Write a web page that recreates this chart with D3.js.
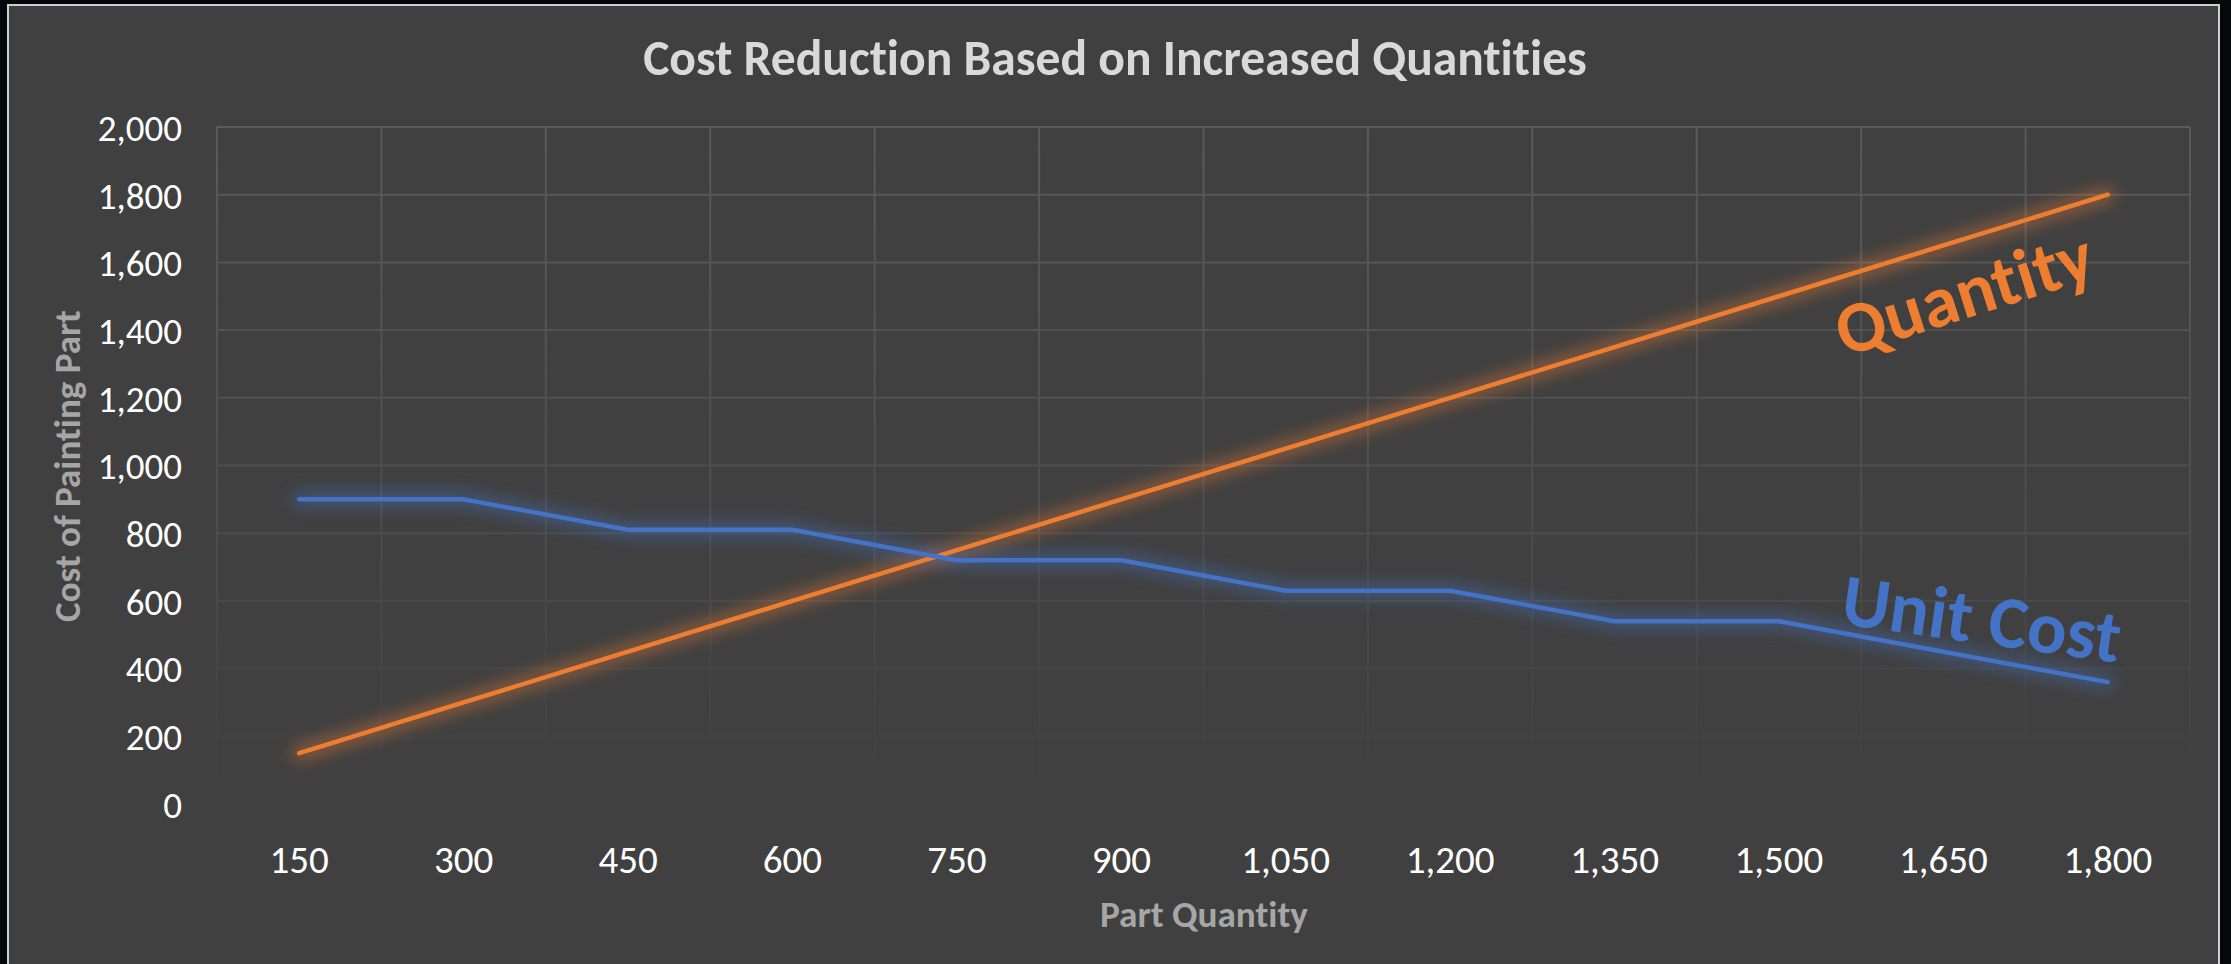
<!DOCTYPE html>
<html><head><meta charset="utf-8">
<script src="https://cdn.jsdelivr.net/npm/d3@7/dist/d3.min.js"></script>
<style>html,body{margin:0;padding:0;background:#06070b;overflow:hidden;} svg{display:block;} text{font-variant-ligatures:none;font-feature-settings:"liga" 0,"clig" 0;}</style>
</head><body><svg id="chart" width="2231" height="964"></svg>
<script>
// ---- data ----
const categories = [150, 300, 450, 600, 750, 900, 1050, 1200, 1350, 1500, 1650, 1800];
const quantityValues = [150, 300, 450, 600, 750, 900, 1050, 1200, 1350, 1500, 1650, 1800];
const unitCostValues = [900, 900, 810, 810, 720, 720, 630, 630, 540, 540, 450, 360];
const yTicks = [0, 200, 400, 600, 800, 1000, 1200, 1400, 1600, 1800, 2000];
const chartTitle = "Cost Reduction Based on Increased Quantities";
const xTitle = "Part Quantity";
const yTitle = "Cost of Painting Part";
const seriesNames = ["Quantity", "Unit Cost"];

// ---- layout ----
const W = 2231, H = 964;
const FONT = "Carlito, Lato, 'Open Sans', sans-serif";
const svg = d3.select("#chart");
const defs = svg.append("defs");

svg.append("rect").attr("x", 0).attr("y", 0).attr("width", W).attr("height", H).attr("fill", "#06070b");
svg.append("rect").attr("x", 8).attr("y", 5).attr("width", 2211).attr("height", 1000)
  .attr("fill", "#404040").attr("stroke", "#cfcfcf").attr("stroke-width", 2);

const x = d3.scaleBand().domain(categories).range([217, 2190]).paddingInner(0).paddingOuter(0);
const y = d3.scaleLinear().domain([0, 2000]).range([804, 127]);
const cx = d => x(d) + x.bandwidth() / 2;

// gridline fade mask
const grad = defs.append("linearGradient").attr("id", "fade")
  .attr("gradientUnits", "userSpaceOnUse").attr("x1", 0).attr("y1", y(2000)).attr("x2", 0).attr("y2", y(0));
grad.append("stop").attr("offset", 0).attr("stop-color", "#fff").attr("stop-opacity", 1);
grad.append("stop").attr("offset", 0.5).attr("stop-color", "#fff").attr("stop-opacity", 0.6);
grad.append("stop").attr("offset", 1).attr("stop-color", "#fff").attr("stop-opacity", 0);
const mask = defs.append("mask").attr("id", "gmask").attr("maskUnits", "userSpaceOnUse")
  .attr("x", 0).attr("y", 0).attr("width", W).attr("height", H);
mask.append("rect").attr("x", 0).attr("y", y(2000) - 5).attr("width", W).attr("height", y(0) - y(2000) + 10).attr("fill", "url(#fade)");

const grid = svg.append("g").attr("mask", "url(#gmask)");
grid.selectAll("line.h").data(yTicks).join("line").attr("class", "h")
  .attr("x1", x.range()[0]).attr("x2", x.range()[1])
  .attr("y1", d => y(d)).attr("y2", d => y(d))
  .attr("stroke", "#5a5a5a").attr("stroke-width", 2);
const edges = categories.map(c => x(c)).concat([x.range()[1]]);
grid.selectAll("line.v").data(edges).join("line").attr("class", "v")
  .attr("x1", d => d).attr("x2", d => d)
  .attr("y1", y(2000)).attr("y2", y(0))
  .attr("stroke", "#5a5a5a").attr("stroke-width", 2);

// axes
const yAxis = svg.append("g").attr("transform", `translate(${x.range()[0]},0)`)
  .call(d3.axisLeft(y).tickValues(yTicks).tickFormat(d3.format(",")).tickSize(0).tickPadding(35));
const xAxis = svg.append("g").attr("transform", `translate(0,${y(0)})`)
  .call(d3.axisBottom(x).tickFormat(d3.format(",")).tickSize(0).tickPadding(42));
[yAxis, xAxis].forEach(a => {
  a.select(".domain").remove();
  a.selectAll("text").attr("fill", "#ffffff").attr("font-family", FONT);
});
yAxis.selectAll("text").attr("font-size", 37).attr("dy", "0.36em");
xAxis.selectAll("text").attr("font-size", 39).attr("dy", "0.68em");

// glow filter
const f = defs.append("filter").attr("id", "glow").attr("x", "-10%").attr("y", "-30%").attr("width", "120%").attr("height", "160%");
f.append("feGaussianBlur").attr("stdDeviation", 8);

const series = [
  { name: seriesNames[0], values: quantityValues, color: "#ED7D31" },
  { name: seriesNames[1], values: unitCostValues, color: "#4472C4" }
];
const line = d3.line().x((d, i) => cx(categories[i])).y(d => y(d));

series.forEach(s => {
  svg.append("path").attr("d", line(s.values)).attr("fill", "none")
    .attr("stroke", s.color).attr("stroke-width", 15).attr("stroke-opacity", 0.45)
    .attr("stroke-linecap", "round").attr("stroke-linejoin", "round").attr("filter", "url(#glow)");
});
series.forEach(s => {
  svg.append("path").attr("d", line(s.values)).attr("fill", "none")
    .attr("stroke", s.color).attr("stroke-width", 4.5)
    .attr("stroke-linecap", "round").attr("stroke-linejoin", "round");
});

function fit(sel, target) {
  const w = sel.node().getComputedTextLength();
  const fs = parseFloat(sel.attr("font-size"));
  sel.attr("font-size", fs * target / w);
}

// title
const t = svg.append("text").attr("x", 1115).attr("y", 75).attr("text-anchor", "middle")
  .attr("font-family", FONT).attr("font-weight", "bold").attr("font-size", 40)
  .attr("fill", "#d9d9d9").text(chartTitle);
fit(t, 944);

// axis titles
const xt = svg.append("text").attr("x", 1204).attr("y", 927).attr("text-anchor", "middle")
  .attr("font-family", FONT).attr("font-weight", "bold").attr("font-size", 34)
  .attr("fill", "#a6a6a6").text(xTitle);
fit(xt, 208);
const yt = svg.append("text").attr("transform", "translate(80,466) rotate(-90)").attr("text-anchor", "middle")
  .attr("font-family", FONT).attr("font-weight", "bold").attr("font-size", 34)
  .attr("fill", "#a6a6a6").text(yTitle);
fit(yt, 312);

// series labels
const ql = svg.append("text").attr("transform", "translate(1964,294) rotate(-17.5)").attr("text-anchor", "middle")
  .attr("dy", "0.33em").attr("font-family", FONT).attr("font-weight", "bold").attr("font-size", 64)
  .attr("fill", series[0].color).text(series[0].name);
fit(ql, 266);
const ul = svg.append("text").attr("transform", "translate(1982,617) rotate(8)").attr("text-anchor", "middle")
  .attr("dy", "0.36em").attr("font-family", FONT).attr("font-weight", "bold").attr("font-size", 64)
  .attr("fill", series[1].color).text(series[1].name);
fit(ul, 281);
</script></body></html>
